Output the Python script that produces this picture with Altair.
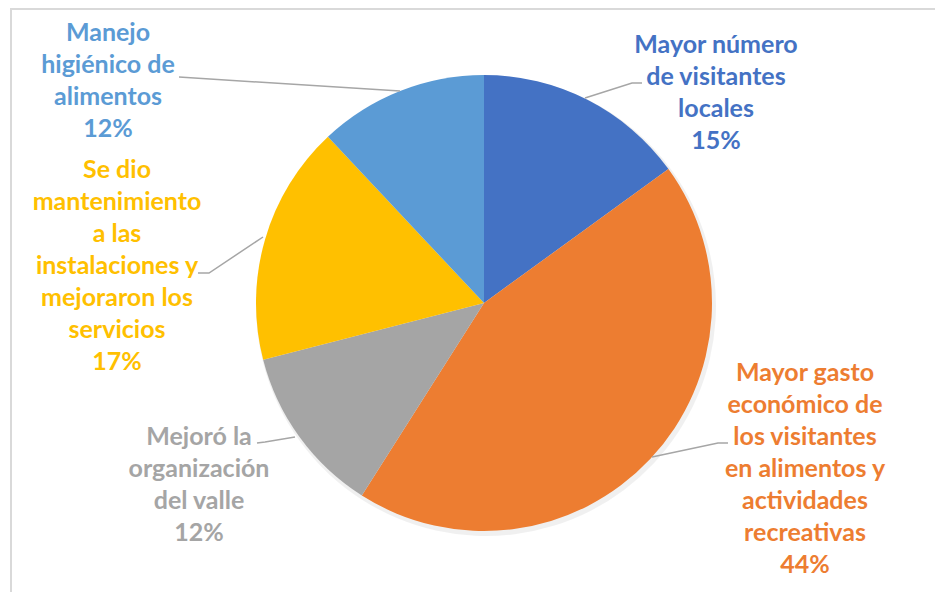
import altair as alt
import pandas as pd

# ---- data ----
categories = [
    "Mayor número de visitantes locales",
    "Mayor gasto económico de los visitantes en alimentos y actividades recreativas",
    "Mejoró la organización del valle",
    "Se dio mantenimiento a las instalaciones y mejoraron los servicios",
    "Manejo higiénico de alimentos",
]
values = [15, 44, 12, 17, 12]
label_lines = [
    ["Mayor número", "de visitantes", "locales", "15%"],
    ["Mayor gasto", "económico de", "los visitantes", "en alimentos y", "actividades", "recreativas", "44%"],
    ["Mejoró la", "organización", "del valle", "12%"],
    ["Se dio", "mantenimiento", "a las", "instalaciones y", "mejoraron los", "servicios", "17%"],
    ["Manejo", "higiénico de", "alimentos", "12%"],
]
colors = ["#4472C4", "#ED7D31", "#A5A5A5", "#FFC000", "#5B9BD5"]

# ---- layout (chart pixel coordinates) ----
W, H = 927, 584
CX, CY, R = 476, 295, 228
label_pos = [(708, 37), (797, 365), (191, 429), (109, 162), (100, 25)]
leader_pts = [
    [(634, 75), (624, 75), (577, 90)],
    [(720, 435), (710, 435), (644, 449)],
    [(249, 435), (257, 434), (287, 429)],
    [(190, 265), (201, 265), (255, 229)],
    [(171, 69), (392, 83)],
]

pie_df = pd.DataFrame({"cat": categories, "value": values, "idx": list(range(len(values)))})

lab_df = pd.DataFrame({
    "cat": categories,
    "text": ["\n".join(l) for l in label_lines],
    "lx": [p[0] for p in label_pos],
    "ly": [p[1] for p in label_pos],
})

rows = []
for i, pts in enumerate(leader_pts):
    for j, (x, y) in enumerate(pts):
        rows.append({"g": i, "s": j, "x": x, "y": y})
lead_df = pd.DataFrame(rows)

color_scale = alt.Scale(domain=categories, range=colors)

border = alt.Chart(pd.DataFrame({"a": [0]})).mark_rect(
    fill=None, stroke="#D9D9D9", strokeWidth=2
).encode(
    x=alt.value(3), y=alt.value(1), x2=alt.value(W + 40), y2=alt.value(H + 40)
)

shadow = alt.Chart(pie_df).mark_arc(outerRadius=R + 2, color="#000000", opacity=0.06).encode(
    theta=alt.Theta("value:Q", stack=True),
    order=alt.Order("idx:Q"),
    x=alt.value(CX + 2), y=alt.value(CY + 3),
)

pie = alt.Chart(pie_df).mark_arc(outerRadius=R).encode(
    theta=alt.Theta("value:Q", stack=True),
    order=alt.Order("idx:Q"),
    color=alt.Color("cat:N", scale=color_scale, legend=None),
    x=alt.value(CX), y=alt.value(CY),
)

leaders = alt.Chart(lead_df).mark_line(color="#A6A6A6", strokeWidth=1.5).encode(
    x=alt.X("x:Q", scale=None),
    y=alt.Y("y:Q", scale=None),
    detail="g:N",
    order="s:Q",
)

labels = alt.Chart(lab_df).mark_text(
    font="Lato", fontWeight="bold", fontSize=25, lineBreak="\n", lineHeight=32,
    align="center", baseline="middle",
).encode(
    x=alt.X("lx:Q", scale=None),
    y=alt.Y("ly:Q", scale=None),
    text="text:N",
    color=alt.Color("cat:N", scale=color_scale, legend=None),
)

chart = alt.layer(border, shadow, pie, leaders, labels).properties(
    width=W, height=H, padding=0, autosize=alt.AutoSizeParams(type="none")
).configure_view(stroke=None)

chart.save("out.html", embed_options={"renderer": "svg", "actions": False})
